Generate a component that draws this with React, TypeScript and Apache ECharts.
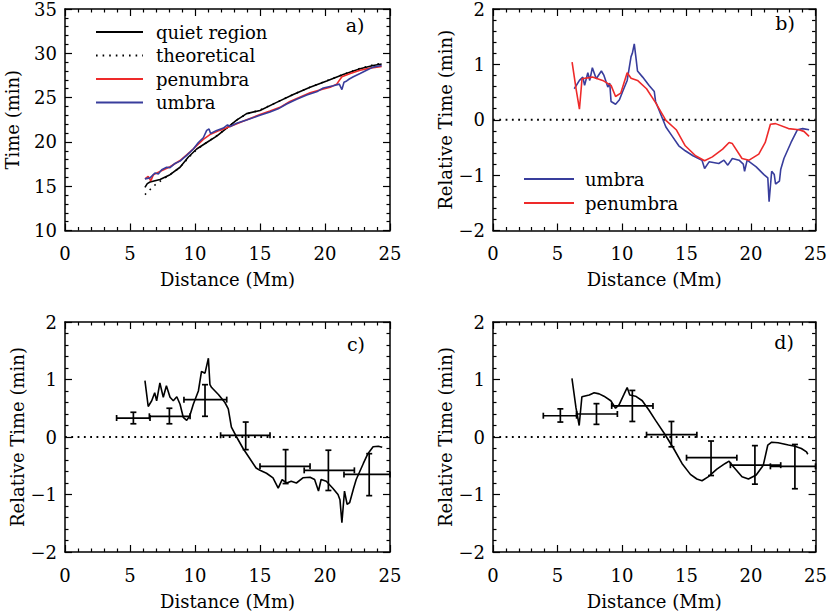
import React, { useEffect, useRef } from "react";
import * as echarts from "echarts";

const FONT = "DejaVu Serif";
const BLUE = "#383d9c";
const RED = "#ee2a2a";

const X_RANGE = [0, 25];
const A_Y_RANGE = [10, 35];
const REL_Y_RANGE = [-2, 2];
const ZERO_LINE = [[0, 0], [25, 0]];

const LEGEND_A = ["quiet region", "theoretical", "penumbra", "umbra"];
const LEGEND_B = ["umbra", "penumbra"];
const PANEL_LABELS = ["a)", "b)", "c)", "d)"];

// Panel a
const A_QUIET = [
  [6.15, 14.86], [6.33, 15.29], [6.54, 15.47], [7.31, 15.76], [8.08, 16.3], [8.85, 17.14],
  [9.49, 18.3], [10.13, 19.2], [10.9, 19.93], [11.67, 20.65], [12.44, 21.56], [13.2, 22.46],
  [13.97, 23.19], [15.0, 23.55], [16.28, 24.46], [17.56, 25.36], [18.85, 26.16], [20.13, 26.88],
  [21.4, 27.6], [22.7, 28.26], [23.7, 28.62], [24.36, 28.8],
];
const A_THEORY = [
  [6.15, 14.05], [6.5, 14.55], [7.0, 15.25], [7.5, 15.75], [8.08, 16.3], [8.85, 17.14],
  [9.49, 18.2], [10.13, 19.15], [10.9, 19.93], [11.67, 20.7], [12.44, 21.56], [13.2, 22.46],
  [13.97, 23.15], [15.0, 23.6], [16.28, 24.46], [17.56, 25.36], [18.85, 26.16], [20.13, 26.9],
  [21.4, 27.62], [22.7, 28.3], [23.7, 28.68], [24.4, 28.9],
];
const A_PENUMBRA = [
  [6.15, 15.83], [6.4, 16.1], [6.6, 15.6], [6.8, 16.3], [7.3, 16.67], [8.08, 17.2], [8.85, 17.9],
  [9.6, 18.84], [10.13, 19.57], [10.64, 20.29], [11.15, 20.83], [11.9, 21.3], [12.7, 21.74],
  [13.46, 22.2], [14.23, 22.65], [15.0, 23.1], [15.77, 23.48], [16.54, 23.9], [17.3, 24.57],
  [18.1, 25.07], [18.85, 25.54], [19.6, 25.87], [20.4, 26.16], [20.9, 26.52], [21.3, 27.36],
  [21.9, 27.7], [22.7, 28.08], [23.46, 28.33], [24.36, 28.51],
];
const A_UMBRA = [
  [6.15, 15.83], [6.54, 15.94], [6.92, 16.49], [7.18, 16.38], [7.44, 16.85], [7.82, 17.14],
  [8.08, 17.1], [8.46, 17.57], [8.85, 17.83], [9.36, 18.48], [9.87, 19.2], [10.26, 19.93],
  [10.64, 20.47], [10.9, 21.3], [11.08, 21.45], [11.2, 20.94], [11.67, 21.3], [12.18, 21.56],
  [12.5, 21.92], [12.7, 21.74], [13.2, 22.1], [13.97, 22.46], [15.0, 23.0], [15.77, 23.37],
  [16.4, 23.73], [17.05, 24.28], [17.82, 24.82], [18.6, 25.29], [19.36, 25.65], [19.87, 26.09],
  [20.64, 26.34], [21.1, 26.52], [21.3, 25.9], [21.46, 26.74], [21.67, 26.88], [21.87, 27.1],
  [22.18, 27.36], [22.7, 27.72], [23.2, 28.08], [23.7, 28.44], [24.36, 28.62],
];

// Panel b
const B_UMBRA = [
  [6.3, 0.56], [6.7, 0.71], [6.96, 0.77], [7.1, 0.62], [7.35, 0.85], [7.5, 0.71], [7.7, 0.94],
  [8.0, 0.74], [8.4, 0.88], [8.6, 0.8], [8.9, 0.59], [9.05, 0.66], [9.15, 0.33], [9.5, 0.28],
  [9.8, 0.36], [10.05, 0.51], [10.4, 0.71], [10.7, 1.14], [10.8, 1.2], [10.95, 1.37], [11.1, 1.08],
  [11.2, 0.88], [11.6, 0.77], [12.1, 0.62], [12.5, 0.51], [12.6, 0.33], [13.0, 0.1], [13.4, -0.13],
  [13.9, -0.3], [14.4, -0.47], [14.9, -0.56], [15.5, -0.65], [16.2, -0.73], [16.4, -0.88],
  [16.75, -0.76], [17.5, -0.79], [17.9, -0.73], [18.2, -0.82], [18.55, -0.7], [19.07, -0.73],
  [19.4, -0.8], [19.5, -0.93], [19.7, -0.73], [20.4, -0.85], [21.0, -0.99], [21.3, -1.05],
  [21.4, -1.48], [21.6, -0.93], [21.8, -0.99], [21.9, -1.16], [22.2, -1.11], [22.3, -0.9],
  [22.55, -0.7], [23.1, -0.41], [23.6, -0.18], [24.0, -0.16], [24.5, -0.18],
];
const B_PENUMBRA = [
  [6.13, 1.04], [6.45, 0.54], [6.7, 0.19], [6.9, 0.74], [7.7, 0.77], [8.5, 0.71], [9.15, 0.62],
  [9.5, 0.42], [9.9, 0.48], [10.4, 0.85], [10.7, 0.75], [11.2, 0.71], [11.9, 0.56], [12.6, 0.31],
  [13.4, -0.01], [14.2, -0.18], [14.9, -0.47], [15.7, -0.65], [16.4, -0.74], [17.0, -0.67],
  [17.8, -0.53], [18.3, -0.41], [18.55, -0.43], [19.3, -0.7], [19.85, -0.73], [20.6, -0.62],
  [21.1, -0.41], [21.5, -0.08], [21.9, -0.07], [22.9, -0.16], [23.7, -0.18], [24.1, -0.21],
  [24.5, -0.3],
];

// Panel c
const C_LINE = [
  [6.15, 0.98], [6.4, 0.53], [6.67, 0.63], [6.9, 0.77], [7.05, 0.63], [7.3, 0.94], [7.56, 0.69],
  [7.8, 0.89], [8.08, 0.69], [8.33, 0.63], [8.6, 0.7], [8.85, 0.57], [9.1, 0.34], [9.36, 0.29],
  [9.6, 0.37], [9.87, 0.57], [10.26, 0.8], [10.5, 1.14], [10.77, 1.11], [11.03, 1.37], [11.15, 0.91],
  [11.28, 0.86], [11.8, 0.74], [12.3, 0.6], [12.56, 0.49], [12.8, 0.17], [13.2, 0.0], [13.7, -0.2],
  [14.2, -0.37], [14.7, -0.54], [15.0, -0.58], [15.5, -0.63], [16.0, -0.71], [16.4, -0.89],
  [16.7, -0.74], [17.05, -0.8], [17.4, -0.77], [17.8, -0.8], [18.3, -0.71], [18.85, -0.7],
  [19.2, -0.74], [19.5, -0.94], [19.7, -0.74], [20.1, -0.77], [20.6, -0.89], [21.0, -1.0],
  [21.15, -1.09], [21.3, -1.49], [21.5, -0.94], [21.7, -1.17], [21.9, -1.14], [22.2, -0.89],
  [22.4, -0.74], [22.95, -0.46], [23.3, -0.29], [23.7, -0.17], [24.1, -0.16], [24.4, -0.18],
];
// [x, y, xmin, xmax, ylow, yhigh]
const C_ERRORS = [
  [5.26, 0.33, 3.97, 6.54, 0.23, 0.43],
  [8.03, 0.36, 6.49, 9.62, 0.23, 0.5],
  [10.77, 0.65, 9.15, 12.44, 0.36, 0.91],
  [13.9, 0.03, 11.97, 15.77, -0.22, 0.26],
  [16.97, -0.51, 15.0, 18.85, -0.81, -0.22],
  [20.26, -0.58, 18.4, 22.26, -0.93, -0.23],
  [23.4, -0.65, 21.46, 25.0, -1.02, -0.29],
];

// Panel d
const D_LINE = [
  [6.12, 1.02], [6.43, 0.51], [6.68, 0.2], [6.89, 0.7], [7.46, 0.73], [7.84, 0.77], [8.23, 0.75],
  [8.6, 0.71], [9.13, 0.63], [9.5, 0.5], [9.77, 0.56], [10.15, 0.74], [10.4, 0.86], [10.6, 0.73],
  [11.05, 0.71], [11.57, 0.63], [12.08, 0.47], [12.6, 0.29], [13.37, 0.03], [14.0, -0.2],
  [14.65, -0.46], [15.3, -0.65], [15.8, -0.73], [16.2, -0.76], [16.7, -0.69], [17.35, -0.56],
  [18.0, -0.46], [18.3, -0.42], [18.6, -0.51], [19.3, -0.69], [19.8, -0.73], [20.4, -0.66],
  [20.95, -0.49], [21.3, -0.14], [21.6, -0.09], [22.1, -0.1], [22.9, -0.14], [23.4, -0.16],
  [23.9, -0.2], [24.3, -0.26], [24.4, -0.3],
];
const D_ERRORS = [
  [5.22, 0.37, 3.9, 6.48, 0.26, 0.49],
  [8.02, 0.4, 6.48, 9.64, 0.22, 0.58],
  [10.8, 0.54, 9.2, 12.4, 0.27, 0.81],
  [13.83, 0.04, 11.9, 15.8, -0.17, 0.27],
  [16.9, -0.36, 15.0, 18.9, -0.67, -0.07],
  [20.3, -0.49, 18.4, 22.3, -0.82, -0.15],
  [23.4, -0.51, 21.5, 25.0, -0.9, -0.13],
];

const GRIDS = [
  { left: 65, top: 1, width: 325, height: 229.5 },
  { left: 493, top: 1, width: 324, height: 229.5 },
  { left: 65, top: 322, width: 325, height: 230 },
  { left: 493, top: 322, width: 324, height: 230 },
];
const Y_NAME_GAPS = [44, 36, 38, 36];
const LABEL_POS = [[355, 25], [785, 23], [356, 344], [784, 342]];

const textBase = { fontFamily: FONT, fontSize: 18, color: "#000" };

function xAxes(gi: number) {
  const common = {
    type: "value",
    gridIndex: gi,
    min: X_RANGE[0],
    max: X_RANGE[1],
    interval: 5,
    splitLine: { show: false },
    axisLine: { show: true, onZero: false, lineStyle: { color: "#000", width: 1.5 } },
    axisTick: { show: true, inside: true, length: 7, lineStyle: { color: "#000", width: 1.2 } },
    minorTick: { show: true, splitNumber: 5, length: 3.5, lineStyle: { color: "#000", width: 1.2 } },
  };
  return [
    {
      ...common,
      position: "bottom",
      axisLabel: { ...textBase, margin: 14 },
      name: "Distance (Mm)",
      nameLocation: "middle",
      nameGap: 40,
      nameTextStyle: { ...textBase },
    },
    { ...common, position: "top", axisLabel: { show: false } },
  ];
}

function yAxes(gi: number) {
  const range = gi === 0 ? A_Y_RANGE : REL_Y_RANGE;
  const common = {
    type: "value",
    gridIndex: gi,
    min: range[0],
    max: range[1],
    interval: gi === 0 ? 5 : 1,
    splitLine: { show: false },
    axisLine: { show: true, onZero: false, lineStyle: { color: "#000", width: 1.5 } },
    axisTick: { show: true, inside: true, length: 7, lineStyle: { color: "#000", width: 1.2 } },
    minorTick: { show: true, splitNumber: 5, length: 3.5, lineStyle: { color: "#000", width: 1.2 } },
  };
  return [
    {
      ...common,
      position: "left",
      axisLabel: {
        ...textBase,
        margin: 8,
        formatter: (v: number) => String(v).replace("-", "\u2212"),
      },
      name: gi === 0 ? "Time (min)" : "Relative Time (min)",
      nameLocation: "middle",
      nameGap: Y_NAME_GAPS[gi],
      nameTextStyle: { ...textBase },
    },
    { ...common, position: "right", axisLabel: { show: false } },
  ];
}

function lineSeries(name: string, data: number[][], gi: number, color: string, dash?: number[] | string) {
  return {
    type: "line",
    name,
    data,
    xAxisIndex: gi * 2,
    yAxisIndex: gi * 2,
    showSymbol: false,
    symbol: "none",
    itemStyle: { color },
    lineStyle: { color, width: 1.6, type: dash || "solid" },
    silent: true,
  };
}

function zeroSeries(gi: number) {
  return {
    type: "line",
    name: "zero" + gi,
    data: ZERO_LINE,
    xAxisIndex: gi * 2,
    yAxisIndex: gi * 2,
    showSymbol: false,
    symbol: "none",
    lineStyle: { color: "#000", width: 1.8, type: [1.8, 4.5] },
    silent: true,
    z: 1,
  };
}

function renderErr(params: any, api: any) {
  const x = api.value(0);
  const y = api.value(1);
  const l = api.coord([api.value(2), y]);
  const r = api.coord([api.value(3), y]);
  const b = api.coord([x, api.value(4)]);
  const t = api.coord([x, api.value(5)]);
  const cap = 3;
  const mk = (x1: number, y1: number, x2: number, y2: number) => ({
    type: "line",
    shape: { x1, y1, x2, y2 },
    style: { stroke: "#000", lineWidth: 1.7, fill: "none" },
  });
  return {
    type: "group",
    children: [
      mk(l[0], l[1], r[0], r[1]),
      mk(l[0], l[1] - cap, l[0], l[1] + cap),
      mk(r[0], r[1] - cap, r[0], r[1] + cap),
      mk(b[0], b[1], t[0], t[1]),
      mk(b[0] - cap, b[1], b[0] + cap, b[1]),
      mk(t[0] - cap, t[1], t[0] + cap, t[1]),
    ],
  };
}

function errSeries(data: number[][], gi: number) {
  return {
    type: "custom",
    name: "errors" + gi,
    data,
    xAxisIndex: gi * 2,
    yAxisIndex: gi * 2,
    encode: { x: [0, 2, 3], y: [1, 4, 5] },
    renderItem: renderErr,
    silent: true,
    z: 3,
  };
}

const hiddenSymbol = { color: "rgba(0,0,0,0)", borderColor: "rgba(0,0,0,0)", borderWidth: 0 };

export default function App() {
  const ref = useRef<HTMLDivElement>(null);
  useEffect(() => {
    document.body.style.margin = "0";
    if (!ref.current) return;
    const chart = echarts.init(ref.current, undefined, { renderer: "svg" });
    const option = {
      animation: false,
      backgroundColor: "#fff",
      grid: GRIDS,
      xAxis: [0, 1, 2, 3].flatMap((g) => xAxes(g)),
      yAxis: [0, 1, 2, 3].flatMap((g) => yAxes(g)),
      legend: [
        {
          data: LEGEND_A,
          orient: "vertical",
          left: 95,
          top: 23,
          padding: 0,
          itemWidth: 47,
          itemHeight: 14,
          itemGap: 5.5,
          selectedMode: false,
          itemStyle: hiddenSymbol,
          textStyle: { ...textBase, padding: [0, 0, 0, 8] },
        },
        {
          data: LEGEND_B,
          orient: "vertical",
          left: 523,
          top: 170,
          padding: 0,
          itemWidth: 50,
          itemHeight: 14,
          itemGap: 6,
          selectedMode: false,
          itemStyle: hiddenSymbol,
          textStyle: { ...textBase, padding: [0, 0, 0, 6] },
        },
      ],
      graphic: PANEL_LABELS.map((t, i) => ({
        type: "text",
        x: LABEL_POS[i][0],
        y: LABEL_POS[i][1],
        style: { text: t, font: `19px "${FONT}"`, fill: "#000", align: "center", verticalAlign: "middle" },
      })),
      series: [
        lineSeries("quiet region", A_QUIET, 0, "#000"),
        lineSeries("theoretical", A_THEORY, 0, "#000", [1.6, 5]),
        lineSeries("penumbra", A_PENUMBRA, 0, RED),
        lineSeries("umbra", A_UMBRA, 0, BLUE),
        zeroSeries(1),
        lineSeries("umbra", B_UMBRA, 1, BLUE),
        lineSeries("penumbra", B_PENUMBRA, 1, RED),
        zeroSeries(2),
        lineSeries("c line", C_LINE, 2, "#000"),
        errSeries(C_ERRORS, 2),
        zeroSeries(3),
        lineSeries("d line", D_LINE, 3, "#000"),
        errSeries(D_ERRORS, 3),
      ],
    };
    chart.setOption(option as any);
    return () => chart.dispose();
  }, []);
  return <div ref={ref} style={{ width: 830, height: 615 }} />;
}
